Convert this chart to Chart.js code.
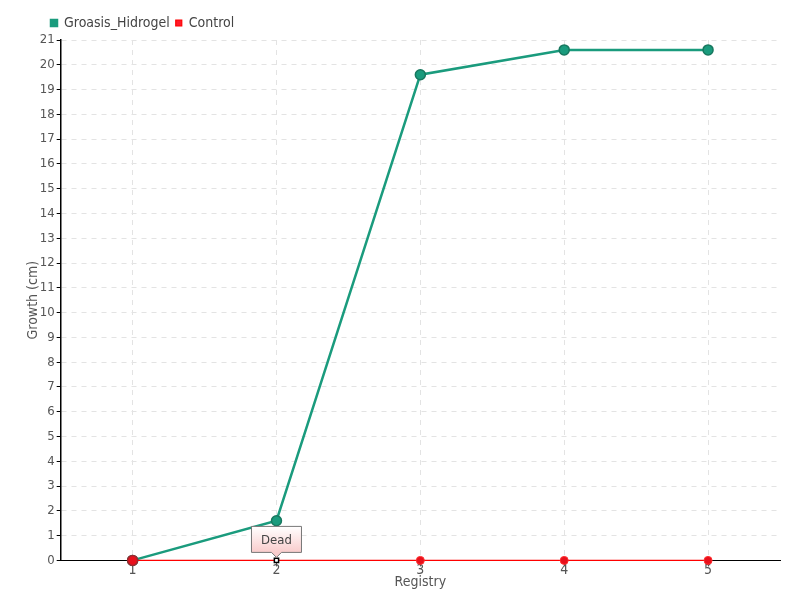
<!DOCTYPE html>
<html><head><meta charset="utf-8">
<script src="https://cdn.jsdelivr.net/npm/chart.js@4/dist/chart.umd.min.js"></script>
<style>html,body{margin:0;padding:0;background:#fff}#c{width:800px;height:600px}</style>
</head><body><div id="c"><canvas id="cv" width="800" height="600"></canvas></div>
<script>
const categories = ['1','2','3','4','5'];
const groasis = [0, 1.6, 19.6, 20.6, 20.6];
const control = [0, 0, 0, 0, 0];
const annotations = [{series: 1, index: 1, text: 'Dead'}];
const yTicks = {min: 0, max: 21, step: 1};
const FONT = "'DejaVu Sans Condensed','Liberation Sans Narrow','Roboto Condensed',sans-serif";

const labelPlugin = {
  id: 'deadLabel',
  afterLayout(chart) {
    if (chart.legend) chart.legend.left = 45;
  },
  afterDatasetsDraw(chart) {
    const ctx = chart.ctx;
    annotations.forEach(a => {
      const meta = chart.getDatasetMeta(a.series);
      const el = meta.data[a.index];
      const x = el.x, y = el.y;
      ctx.save();
      ctx.font = '13px ' + FONT;
      const w = 50, h = 26, by = y - 8 - h;
      const bx = x - w / 2;
      const g = ctx.createLinearGradient(0, by, 0, by + h);
      g.addColorStop(0, '#ffffff'); g.addColorStop(1, '#f9cccc');
      ctx.beginPath();
      ctx.moveTo(bx, by); ctx.lineTo(bx + w, by); ctx.lineTo(bx + w, by + h);
      ctx.lineTo(x + 5, by + h); ctx.lineTo(x, by + h + 5); ctx.lineTo(x - 5, by + h);
      ctx.lineTo(bx, by + h); ctx.closePath();
      ctx.fillStyle = g; ctx.fill();
      ctx.strokeStyle = '#777'; ctx.lineWidth = 1; ctx.stroke();
      ctx.fillStyle = '#444'; ctx.textAlign = 'center'; ctx.textBaseline = 'middle';
      ctx.fillText(a.text, x, by + h / 2 + 1);
      ctx.restore();
    });
  }
};

new Chart(document.getElementById('cv'), {
  type: 'line',
  data: {
    labels: categories,
    datasets: [
      {label: 'Groasis_Hidrogel', data: groasis, order: 1, clip: false, borderColor: '#1a9b7d', backgroundColor: '#1a9b7d',
       pointBackgroundColor: '#1a9b7d', pointBorderColor: '#17785f', borderWidth: 2.5, pointRadius: 5, pointBorderWidth: 1.5, tension: 0},
      {label: 'Control', data: control, order: 0, clip: false, borderColor: '#ff0000', backgroundColor: '#ff1a2a',
       pointBackgroundColor: ['#e8101c','#ffffff','#e8101c','#e8101c','#e8101c'],
       pointBorderColor: ['#9a2a30','#000000','#ff3030','#ff3030','#ff3030'],
       pointStyle: ['circle','rect','circle','circle','circle'],
       pointRadius: [5,3,4,4,4], pointBorderWidth: [1.5,1.5,1,1,1], borderWidth: 1.2, tension: 0}
    ]
  },
  options: {
    responsive: false, animation: false,
    layout: {padding: {left: 9, right: 20, top: 10, bottom: 9}},
    plugins: {
      legend: {align: 'start', labels: {boxWidth: 6, boxHeight: 6, padding: 6, color: '#444', font: {family: FONT, size: 14},
               sort: (a, b) => a.datasetIndex - b.datasetIndex}},
      tooltip: {enabled: false}
    },
    scales: {
      x: {offset: true,
          grid: {color: '#e3e3e3', tickColor: '#555', tickLength: 6, offset: false},
          border: {color: '#000', width: 1, dash: [5,5]},
          ticks: {color: '#555', font: {family: FONT, size: 14}, padding: -4},
          title: {display: true, text: 'Registry', color: '#555', font: {family: FONT, size: 14}, padding: {top: -1, bottom: 0}}},
      y: {min: yTicks.min, max: yTicks.max,
          grid: {color: '#e3e3e3', tickColor: '#000', tickLength: 4},
          border: {color: '#000', width: 1.5, dash: [5,5]},
          ticks: {stepSize: yTicks.step, color: '#555', font: {family: FONT, size: 13}, padding: 2},
          title: {display: true, text: 'Growth (cm)', color: '#555', font: {family: FONT, size: 14}, padding: {top: 16, bottom: -4}}}
    }
  },
  plugins: [labelPlugin]
});
</script></body></html>
